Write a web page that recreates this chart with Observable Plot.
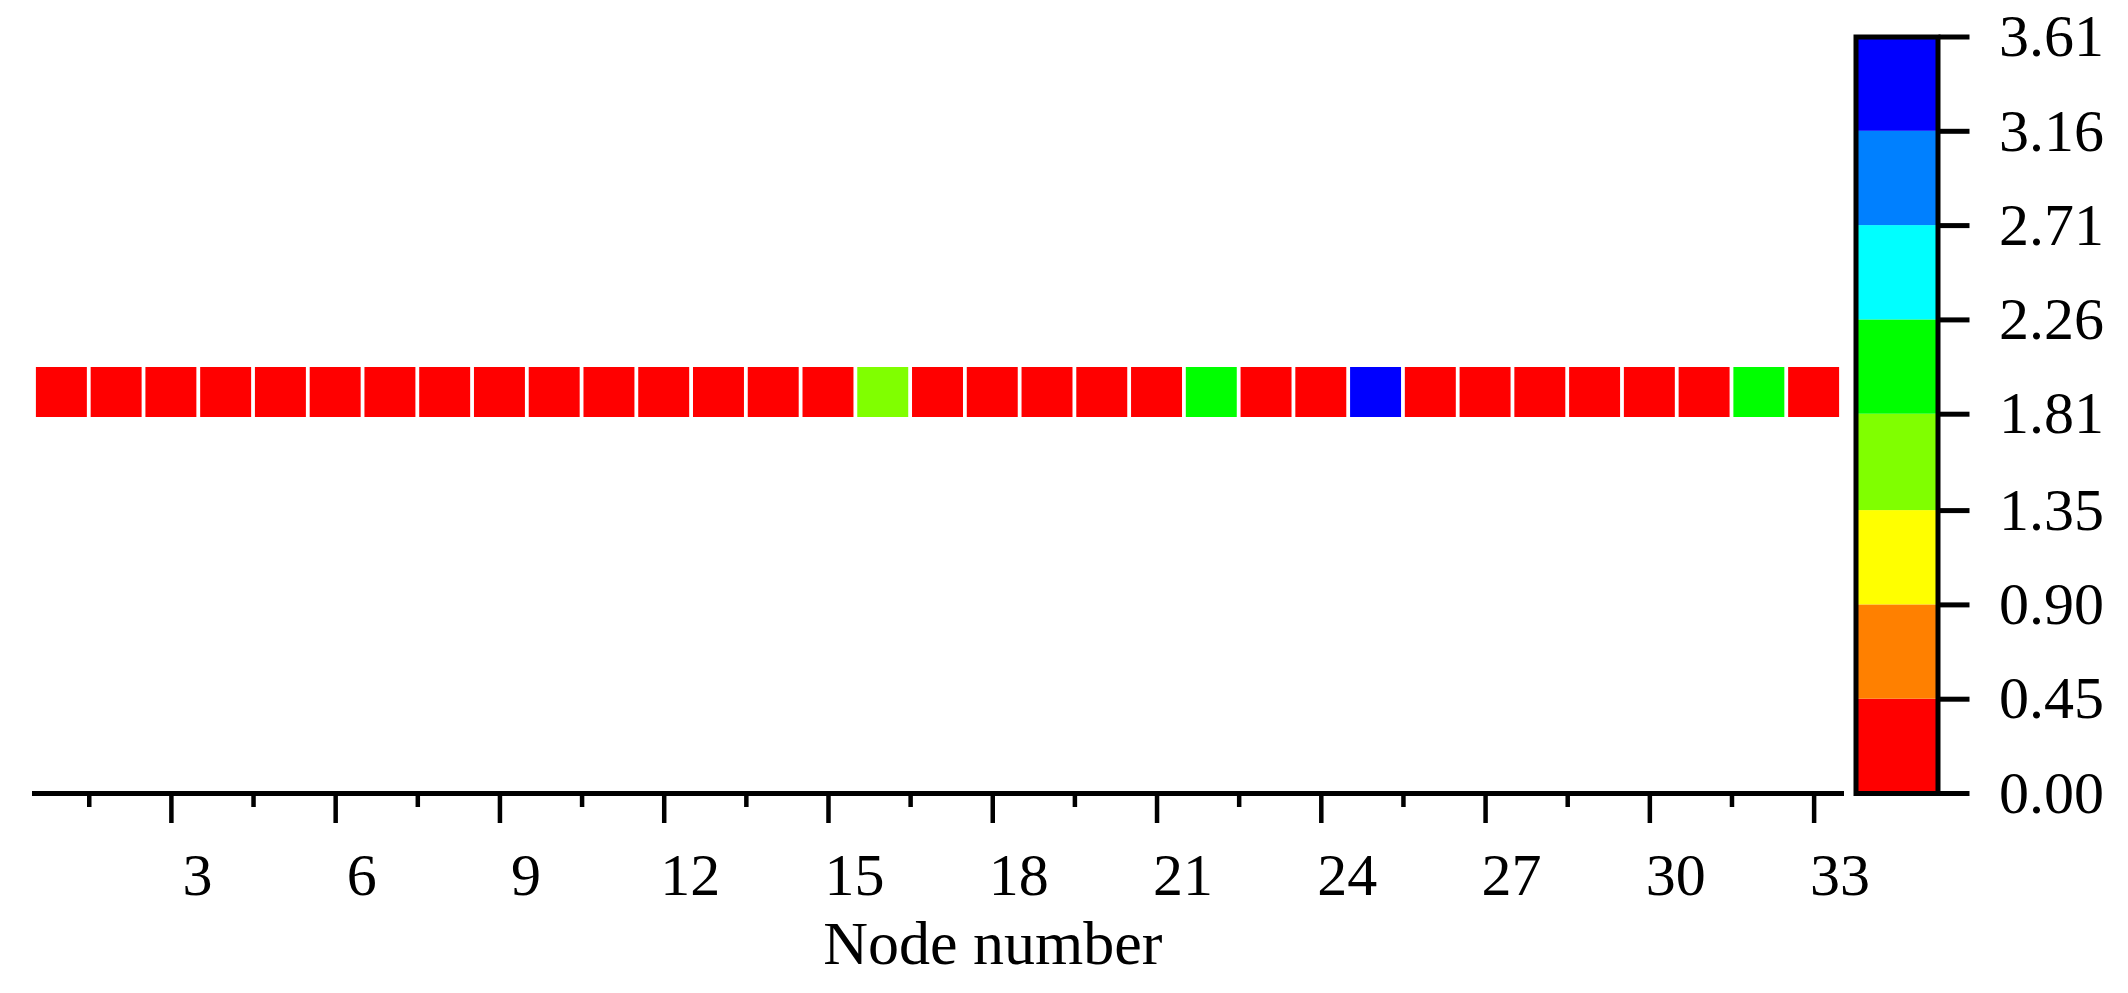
<!DOCTYPE html>
<html>
<head>
<meta charset="utf-8">
<script src="https://cdn.jsdelivr.net/npm/d3@7"></script>
<script src="https://cdn.jsdelivr.net/npm/@observablehq/plot@0.6"></script>
<style>
  html, body { margin: 0; padding: 0; background: #fff; }
  #wrap { position: relative; width: 2128px; height: 993px; overflow: hidden; }
  #wrap > svg { position: absolute; left: 0; top: 0; }
</style>
</head>
<body>
<div id="wrap"></div>
<script>
// ---- data ----
const nodes = d3.range(1, 34);
const values = [
  0.00, 0.10, 0.10, 0.10, 0.10, 0.10, 0.10, 0.10, 0.10, 0.10,
  0.10, 0.10, 0.10, 0.10, 0.10, 1.60, 0.10, 0.10, 0.10, 0.10,
  0.10, 2.05, 0.10, 0.10, 3.61, 0.10, 0.10, 0.10, 0.10, 0.10,
  0.10, 1.95, 0.10
];
const thresholds = [0.00, 0.45, 0.90, 1.35, 1.81, 2.26, 2.71, 3.16, 3.61];
const thresholdLabels = ["0.00", "0.45", "0.90", "1.35", "1.81", "2.26", "2.71", "3.16", "3.61"];
const bandColors = ["#FF0000", "#FF8000", "#FFFF00", "#80FF00", "#00FF00", "#00FFFF", "#0080FF", "#0000FF"];
const majorTicks = [3, 6, 9, 12, 15, 18, 21, 24, 27, 30, 33];
const majorTickLabels = ["3", "6", "9", "12", "15", "18", "21", "24", "27", "30", "33"];
const minorTicks = [1.5, 4.5, 7.5, 10.5, 13.5, 16.5, 19.5, 22.5, 25.5, 28.5, 31.5];
const xTitle = "Node number";

const table = nodes.map((n, i) => ({node: n, value: values[i], row: "r"}));
const bands = bandColors.map((c, i) => ({lo: thresholds[i], hi: thresholds[i + 1], mid: (thresholds[i] + thresholds[i + 1]) / 2}));

const FONT = "'Times New Roman', 'Liberation Serif', serif";
const colorScale = {type: "threshold", domain: thresholds.slice(1, -1), range: bandColors};
const W = 2128, H = 993;

// ---- main chart ----
const main = Plot.plot({
  width: W, height: H,
  marginLeft: 34, marginRight: W - 1841, marginTop: 37, marginBottom: H - 793,
  style: {fontFamily: FONT, fontSize: "60px", color: "black", background: "white", overflow: "visible"},
  x: {type: "linear", domain: [0.5, 33.5]},
  y: {type: "band", domain: ["r"], range: [367, 417], padding: 0, axis: null},
  color: colorScale,
  marks: [
    Plot.barX(table, {x1: d => d.node - 0.5, x2: d => d.node + 0.5, y: "row", fill: "value", insetLeft: 1.9, insetRight: 1.9}),
    Plot.frame({anchor: "bottom", stroke: "black", strokeWidth: 5, strokeLinecap: "square"}),
    Plot.axisX({ticks: minorTicks, tickSize: 14, strokeWidth: 4.5, text: null, label: null}),
    Plot.axisX({ticks: majorTicks, tickSize: 30, strokeWidth: 4.5, text: null, label: null}),
    Plot.axisX({ticks: majorTicks, tickSize: 0, tickPadding: 59, dx: 26,
      tickFormat: (d, i) => majorTickLabels[i], fontSize: 60, fontFamily: FONT, label: null}),
    Plot.text([xTitle], {x: () => 18, frameAnchor: "bottom", lineAnchor: "bottom", dy: 170,
      text: d => d, fontSize: 62, fontFamily: FONT, fill: "black"})
  ]
});

// ---- colour bar ----
const bar = Plot.plot({
  width: W, height: H,
  marginLeft: 1855.5, marginRight: W - 1937.5, marginTop: 36.5, marginBottom: H - 793,
  style: {fontFamily: FONT, fontSize: "60px", color: "black", background: "transparent", overflow: "visible"},
  y: {type: "linear", domain: [0, 3.61]},
  x: {axis: null},
  color: colorScale,
  marks: [
    Plot.rect(bands, {y1: "lo", y2: "hi", fill: "mid"}),
    Plot.frame({stroke: "black", strokeWidth: 5}),
    Plot.axisY({anchor: "right", ticks: thresholds, tickFormat: (d, i) => thresholdLabels[i],
      tickSize: 31, tickPadding: 30, strokeWidth: 5, fontSize: 60, fontFamily: FONT, label: null})
  ]
});
bar.style.pointerEvents = "none";

const wrap = document.getElementById("wrap");
wrap.appendChild(main);
wrap.appendChild(bar);
</script>
</body>
</html>
